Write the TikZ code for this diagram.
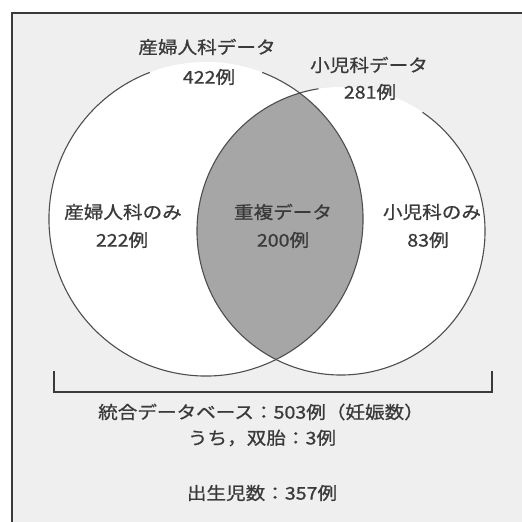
\documentclass[tikz,border=0pt]{standalone}
\usepackage{fontspec}
\newfontfamily\jp[FakeStretch=1.12,FakeBold=0.9]{Noto Sans CJK JP}
\definecolor{ink}{HTML}{3A3A3A}
\definecolor{bg}{HTML}{EFEFEF}
\definecolor{lensgray}{HTML}{A6A6A6}
\tikzset{
  lbl/.style={font=\jp\fontsize{17.5}{20}\selectfont, text=ink, inner sep=0pt},
  ring/.style={draw=ink!90, line width=1.1pt},
  frameline/.style={draw=ink, line width=1.4pt},
}
\begin{document}
\begin{tikzpicture}[x=1pt,y=1pt]
\useasboundingbox (0,0) rectangle (522,522);
\fill[white] (0,0) rectangle (522,522);
% frame area
\fill[bg] (12,0) rectangle (522,509);
\draw[frameline] (12,0) -- (12,509) -- (522,509);
% circles (white interiors)
\fill[white] (206,303) circle (157);
\fill[white] (341,291) circle (144);
% overlap
\begin{scope}
  \clip (206,303) circle (157);
  \fill[lensgray] (341,291) circle (144);
\end{scope}
% outlines with gaps for the titles
\draw[ring] (206,303) ++(111:157) arc (111:429:157);
\draw[ring] (341,291) ++(99:144) arc (99:415.5:144);
% bracket
\coordinate (bl) at (54,151);
\coordinate (br) at (492,151);
\draw[ink, line width=1.2pt] (bl) -- (54,130) -- (492,130) -- (br);
% labels
\node[lbl] (t1)  at (207,475) {産婦人科データ};
\node[lbl] (t1n) at (209,445) {422例};
\node[lbl] (t2)  at (369,457) {小児科データ};
\node[lbl] (t2n) at (370,430) {281例};
\node[lbl] (a1)  at (123,310) {産婦人科のみ};
\node[lbl] (a2)  at (122,282) {222例};
\node[lbl] (b1)  at (283,310) {重複データ};
\node[lbl] (b2)  at (283,282) {200例};
\node[lbl] (c1)  at (432,310) {小児科のみ};
\node[lbl] (c2)  at (428,282) {83例};
\node[lbl] (d1)  at (261,110) {統合データベース：503例（妊娠数）};
\node[lbl] (d2)  at (262,84)  {うち，双胎：3例};
\node[lbl] (d3)  at (262,29)  {出生児数：357例};
\end{tikzpicture}
\end{document}
